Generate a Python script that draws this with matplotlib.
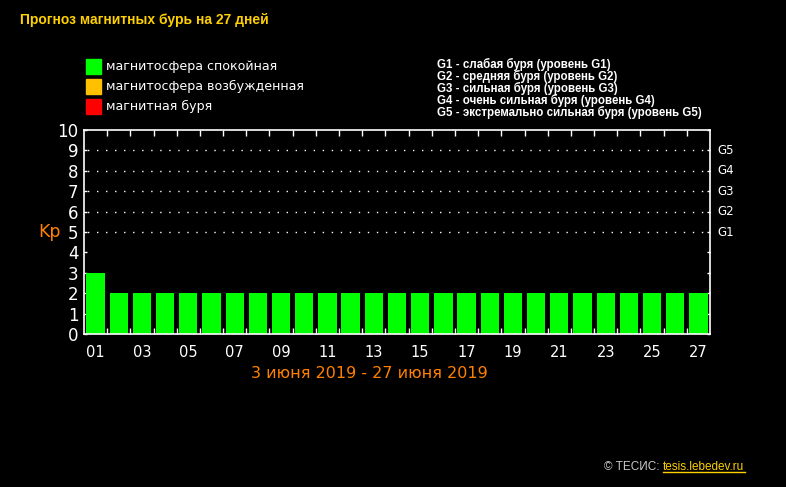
import matplotlib
matplotlib.use("Agg")
import matplotlib.pyplot as plt
from matplotlib.lines import Line2D
from matplotlib.patches import Rectangle

W, H = 786, 487

# данные прогноза Kp на 27 дней
days = list(range(1, 28))
kp = [3] + [2] * 26
day_labels = [f"{d:02d}" for d in days if d % 2 == 1]
g_levels = [5, 6, 7, 8, 9]
g_names = ["G1", "G2", "G3", "G4", "G5"]
g_desc = [
    "G1 - слабая буря (уровень G1)",
    "G2 - средняя буря (уровень G2)",
    "G3 - сильная буря (уровень G3)",
    "G4 - очень сильная буря (уровень G4)",
    "G5 - экстремально сильная буря (уровень G5)",
]
legend_labels = ["магнитосфера спокойная", "магнитосфера возбужденная", "магнитная буря"]
legend_colors = ["#00FF00", "#FFC000", "#FF0000"]


def fx(x):
    return x / W


def fy(y):
    return 1 - y / H


plt.rcParams["font.family"] = ["DejaVu Sans"]
fig = plt.figure(figsize=(W / 100, H / 100), dpi=100, facecolor="black")
ax = fig.add_axes([fx(84), fy(334), fx(710) - fx(84), fy(130) - fy(334)])
ax.set_facecolor("black")

colors = ["#00FF00" if v < 4 else ("#FFC000" if v < 5 else "#FF0000") for v in kp]
ax.bar(days, kp, width=0.79, color=colors, zorder=2)

ax.set_xlim(0.5, 27.5)
ax.set_ylim(0, 10)
for s in ax.spines.values():
    s.set_color("white")
    s.set_linewidth(1.2)

# пунктирные линии на уровнях G1..G5
for lv in g_levels:
    ax.axhline(lv, color="white", linestyle=(4, (1, 5.5)), linewidth=1, zorder=1)

ax.set_yticks(range(0, 11))
ax.set_yticklabels([str(i) for i in range(0, 11)], color="white", fontsize=12)
ax.tick_params(axis="y", which="both", direction="in", length=2.5, width=1,
               color="white", right=True, pad=4)
ax.set_xticks([d for d in days if d % 2 == 1])
ax.set_xticklabels(day_labels, color="white", fontsize=10.5)
ax.set_xticks([d + 0.5 for d in days[:-1]], minor=True)
ax.tick_params(axis="x", which="major", length=0, pad=8)
ax.tick_params(axis="x", which="minor", direction="in", length=4, width=1,
               color="white", top=True, bottom=True)

for lv, name in zip(g_levels, g_names):
    ax.annotate(name, xy=(1, lv), xycoords=("axes fraction", "data"),
                xytext=(5, 0), textcoords="offset points",
                color="white", fontsize=8.5, ha="left", va="center")

fig.text(fx(49), fy(232), "Kp", color="#FF8000", fontsize=12.5, ha="center", va="center")

# заголовок
fig.text(fx(20), fy(20), "Прогноз магнитных бурь на 27 дней", color="#FFD000",
         fontsize=10, fontweight="bold", ha="left", va="center",
         family=["Liberation Sans", "DejaVu Sans"])

# легенда
for i, (lab, col) in enumerate(zip(legend_labels, legend_colors)):
    y0 = 59 + i * 20
    fig.add_artist(Rectangle((fx(86), fy(y0 + 15)), fx(15), fy(0) - fy(15),
                             transform=fig.transFigure, color=col))
    fig.text(fx(106), fy(y0 + 7.5), lab, color="white", fontsize=9.1,
             ha="left", va="center")

# описание уровней G
for i, t in enumerate(g_desc):
    fig.text(fx(437), fy(64 + i * 12), t, color="white", fontsize=8.3,
             fontweight="bold", ha="left", va="center",
             family=["Liberation Sans", "DejaVu Sans"])

fig.text(fx(369), fy(373), "3 июня 2019 - 27 июня 2019", color="#FF8000",
         fontsize=11.5, ha="center", va="center")

fig.text(fx(663), fy(467), "© ТЕСИС: ", color="#C8C8C8", fontsize=8.5,
         ha="right", va="center", family=["Liberation Sans", "DejaVu Sans"])
fig.text(fx(663), fy(467), "tesis.lebedev.ru", color="#FFD000", fontsize=8.5,
         ha="left", va="center", family=["Liberation Sans", "DejaVu Sans"])
fig.add_artist(Line2D([fx(663), fx(745)], [fy(472), fy(472)], color="#FFD000",
                      linewidth=1, transform=fig.transFigure))

fig.savefig("out.png", dpi=100, facecolor="black")
